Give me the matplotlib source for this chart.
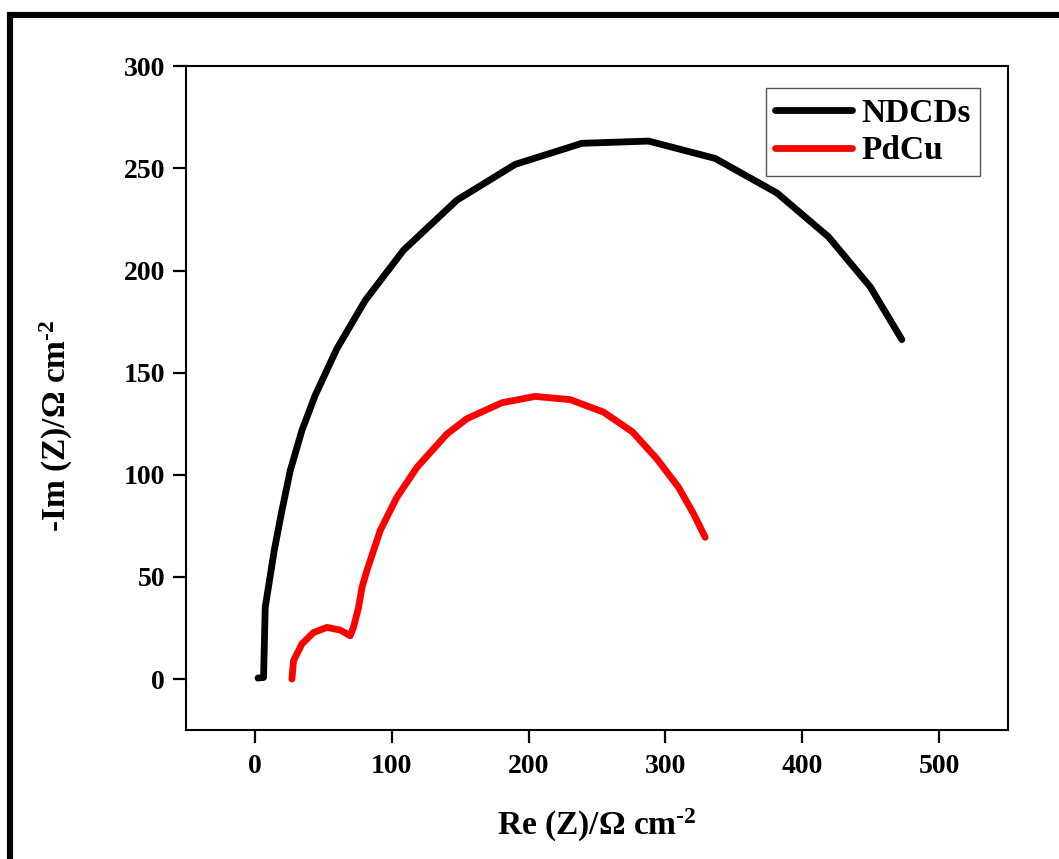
import numpy as np
import matplotlib.pyplot as plt
from matplotlib.lines import Line2D

plt.rcParams['font.family'] = ['Liberation Serif', 'DejaVu Serif']
plt.rcParams['font.weight'] = 'bold'
plt.rcParams['mathtext.fontset'] = 'custom'
plt.rcParams['mathtext.rm'] = 'Liberation Serif:bold'
plt.rcParams['mathtext.default'] = 'rm'

# Nyquist data, Re(Z) vs -Im(Z)
ndcds_re = [2.3, 6.4, 7.6, 14.2, 19.8, 25.9, 34.4, 44.1, 60.0, 80.7, 108.7,
            147.7, 190.3, 239.0, 287.7, 336.4, 381.5, 419.2, 449.7, 472.8]
ndcds_im = [0.5, 0.8, 35.1, 63.0, 82.5, 102.1, 121.7, 138.9, 161.8, 185.4, 210.0,
            234.5, 252.0, 262.3, 263.4, 254.9, 238.0, 216.5, 192.0, 166.2]

pdcu_re = [27.1, 28.3, 34.4, 42.9, 52.7, 62.4, 69.7, 72.1, 75.8, 78.3, 81.9,
           91.6, 103.8, 118.5, 140.4, 155.0, 180.6, 204.9, 230.5, 254.8,
           276.0, 293.8, 309.6, 320.6, 329.1]
pdcu_im = [0.0, 9.0, 17.2, 22.8, 25.3, 24.0, 21.2, 25.3, 35.1, 44.9, 53.1,
           72.7, 89.0, 103.7, 120.0, 127.5, 135.3, 138.4, 136.8, 130.7,
           121.0, 107.8, 93.9, 80.9, 69.4]

xticks = [0, 100, 200, 300, 400, 500]
yticks = [0, 50, 100, 150, 200, 250, 300]

fig = plt.figure(figsize=(10.59, 8.59), dpi=100)
ax = fig.add_axes([0.176, 0.150, 0.7754, 0.7728])

ax.plot(ndcds_re, ndcds_im, color='black', lw=4.9, label='NDCDs',
        solid_capstyle='round', solid_joinstyle='round')
ax.plot(pdcu_re, pdcu_im, color='red', lw=4.9, label='PdCu',
        solid_capstyle='round', solid_joinstyle='round')

ax.set_xlim(-50, 550)
ax.set_ylim(-25, 300)
ax.set_xticks(xticks)
ax.set_yticks(yticks)

for sp in ax.spines.values():
    sp.set_linewidth(1.5)
ax.tick_params(direction='out', length=9.4, width=1.6, labelsize=20)
ax.tick_params(axis='x', pad=8)
ax.tick_params(axis='y', pad=6)
for lab in ax.get_xticklabels() + ax.get_yticklabels():
    lab.set_fontweight('bold')

# superscript keeps a plain hyphen rather than a math minus
ax.set_xlabel(r'Re (Z)/Ω cm$^{\text{-2}}$', fontsize=24, fontweight='bold')
ax.set_ylabel(r'-Im (Z)/Ω cm$^{\text{-2}}$', fontsize=24, fontweight='bold')
ax.xaxis.set_label_coords(0.5, -0.116)
ax.yaxis.set_label_coords(-0.136, 0.458)

leg = ax.legend(loc='upper right', bbox_to_anchor=(0.967, 0.967),
                borderaxespad=0, fontsize=24, handlelength=2.3,
                handletextpad=0.3, labelspacing=0.2, borderpad=0.28,
                fancybox=False, framealpha=1)
leg.get_frame().set_edgecolor('#555555')
leg.get_frame().set_linewidth(1.0)

# thick frame along the left and top of the figure
W, H = 1059, 859
fig.add_artist(Line2D([10 / W, 10 / W], [-0.1, 1 - 14.5 / H], color='black',
                      lw=4.4, transform=fig.transFigure, solid_capstyle='projecting'))
fig.add_artist(Line2D([10 / W, 1.1], [1 - 14.5 / H, 1 - 14.5 / H], color='black',
                      lw=4.4, transform=fig.transFigure, solid_capstyle='projecting'))

fig.savefig('out.png', dpi=100)
